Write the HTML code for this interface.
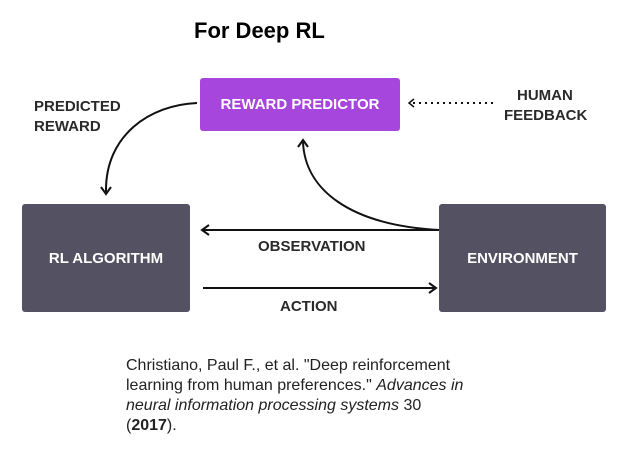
<!DOCTYPE html>
<html><head><style>
body{margin:0;background:#fff;width:633px;height:468px;position:relative;overflow:hidden;font-family:"Liberation Sans",Arial,sans-serif}
.t{position:absolute;font-weight:bold}
.box{position:absolute;color:#fff;font-weight:bold;font-size:15px;display:flex;align-items:center;justify-content:center;border-radius:3px}
.lab{position:absolute;font-weight:bold;font-size:15px;color:#2a2a2a;line-height:20px}
</style></head><body>
<div class="t" style="left:194px;top:18px;font-size:22px;">For Deep RL</div>
<div class="box" style="left:200px;top:78px;width:200px;height:53px;background:#a646dc;">REWARD PREDICTOR</div>
<div class="box" style="left:22px;top:204px;width:168px;height:108px;background:#545262;">RL ALGORITHM</div>
<div class="box" style="left:439px;top:204px;width:167px;height:108px;background:#545262;">ENVIRONMENT</div>
<div class="lab" style="left:34px;top:97px;">PREDICTED<br>REWARD</div>
<div class="lab" style="left:517px;top:86px;">HUMAN</div>
<div class="lab" style="left:504px;top:106px;">FEEDBACK</div>
<div class="lab" style="left:258px;top:237px;">OBSERVATION</div>
<div class="lab" style="left:280px;top:297px;">ACTION</div>
<svg width="633" height="468" style="position:absolute;left:0;top:0" fill="none" stroke="#111" stroke-width="2">
<path d="M197 103 C150 105 105 135 106 192"/><path d="M101 187 L106 194 L111 187"/>
<path d="M439 230 C350 225 305 190 303 142"/><path d="M298 147 L303 140 L308 147"/>
<path d="M439 230 L203 230"/><path d="M209 225 L202 230 L209 235"/>
<path d="M203 288 L434 288"/><path d="M429 283 L436 288 L429 293"/>
<path d="M493 103 L413 103" stroke-dasharray="2 4"/><path d="M414 99 L409 103 L414 107" stroke-width="1.5"/>
</svg>
<div style="position:absolute;left:126px;top:356px;font-size:16px;line-height:20px;color:#222;width:345px">Christiano, Paul F., et al. "Deep reinforcement learning from human preferences." <i>Advances in neural information processing systems</i> 30 (<b>2017</b>).</div>
</body></html>
